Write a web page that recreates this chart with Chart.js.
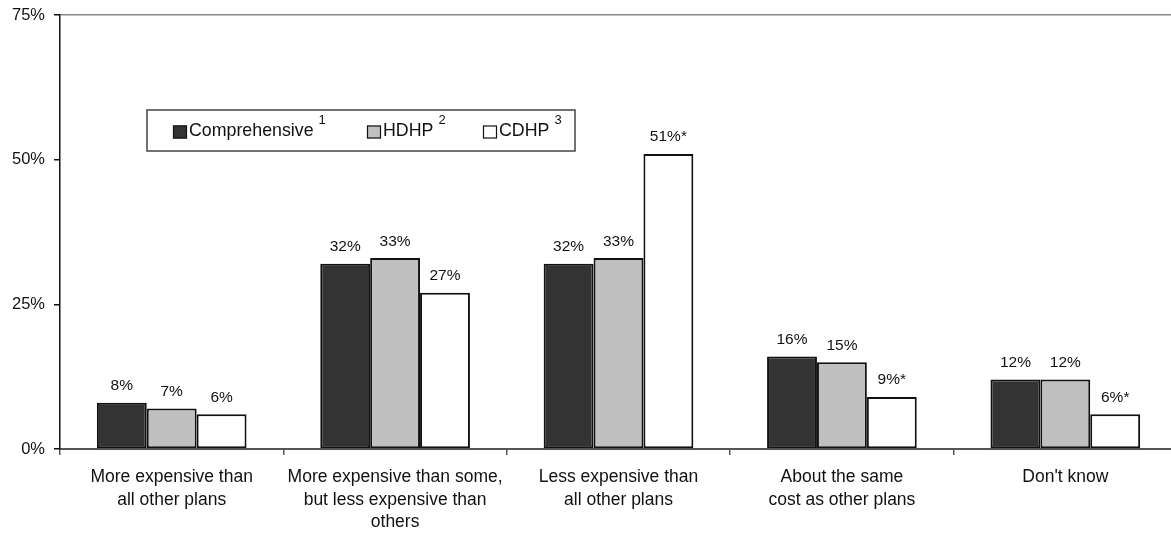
<!DOCTYPE html>
<html>
<head>
<meta charset="utf-8">
<script src="https://cdn.jsdelivr.net/npm/chart.js@4.4.1/dist/chart.umd.min.js"></script>
<style>
  html, body { margin: 0; padding: 0; background: #fff; overflow: hidden; }
  #wrap { width: 1171px; height: 542px; overflow: hidden; }
  canvas { display: block; }
</style>
</head>
<body>
<div id="wrap"><canvas id="chart" width="1178" height="542"></canvas></div>
<script>
const categories = [
  ["More expensive than", "all other plans"],
  ["More expensive than some,", "but less expensive than", "others"],
  ["Less expensive than", "all other plans"],
  ["About the same", "cost as other plans"],
  ["Don't know"]
];
const seriesNames = ["Comprehensive", "HDHP", "CDHP"];
const seriesNotes = ["1", "2", "3"];
const comprehensive = [8, 32, 32, 16, 12];
const hdhp = [7, 33, 33, 15, 12];
const cdhp = [6, 27, 51, 9, 6];
const comprehensiveLabels = ["8%", "32%", "32%", "16%", "12%"];
const hdhpLabels = ["7%", "33%", "33%", "15%", "12%"];
const cdhpLabels = ["6%", "27%", "51%*", "9%*", "6%*"];
const yTicks = [0, 25, 50, 75];

const FONT = "'Liberation Sans', Arial, sans-serif";
const colors = ["#333333", "#c0c0c0", "#ffffff"];

// value labels over each bar
const barLabels = {
  id: "barLabels",
  afterDatasetsDraw(chart) {
    const ctx = chart.ctx;
    ctx.save();
    ctx.font = "15.5px " + FONT;
    ctx.fillStyle = "#111";
    ctx.textAlign = "center";
    ctx.textBaseline = "bottom";
    chart.data.datasets.forEach((ds, i) => {
      chart.getDatasetMeta(i).data.forEach((bar, j) => {
        ctx.fillText(ds.valueLabels[j], bar.x, bar.y - 9);
      });
    });
    ctx.restore();
  }
};

// boxed legend inside the plot with footnote numbers
const boxLegend = {
  id: "boxLegend",
  afterDraw(chart, args, opts) {
    const ctx = chart.ctx;
    ctx.save();
    ctx.strokeStyle = "#444";
    ctx.lineWidth = 1.5;
    ctx.strokeRect(opts.x, opts.y, opts.w, opts.h);
    const midY = opts.y + opts.h / 2 + 1;
    chart.data.datasets.forEach((ds, i) => {
      const x = opts.items[i];
      ctx.fillStyle = ds.backgroundColor;
      ctx.fillRect(x, midY - 6, 14, 13);
      ctx.strokeStyle = "#111";
      ctx.lineWidth = 1.2;
      ctx.strokeRect(x + 0.5, midY - 5.5, 13, 12);
      ctx.fillStyle = "#111";
      ctx.font = "17.8px " + FONT;
      ctx.textAlign = "left";
      ctx.textBaseline = "middle";
      ctx.fillText(ds.label, x + 16, midY);
      const tw = ctx.measureText(ds.label).width;
      ctx.font = "13px " + FONT;
      ctx.fillText(seriesNotes[i], x + 16 + tw + 5, midY - 11);
    });
    ctx.restore();
  }
};

new Chart(document.getElementById("chart"), {
  type: "bar",
  data: {
    labels: categories,
    datasets: [comprehensive, hdhp, cdhp].map((d, i) => ({
      label: seriesNames[i],
      data: d,
      valueLabels: [comprehensiveLabels, hdhpLabels, cdhpLabels][i],
      backgroundColor: colors[i],
      borderColor: "#111",
      borderWidth: 2,
      borderSkipped: false,
      categoryPercentage: 0.67,
      barPercentage: 1.0
    }))
  },
  options: {
    responsive: false,
    animation: false,
    layout: { padding: { top: 15, right: 1, left: 0, bottom: 0 } },
    plugins: {
      legend: { display: false },
      tooltip: { enabled: false },
      boxLegend: { x: 147, y: 110, w: 428, h: 41, items: [173, 367, 483] }
    },
    scales: {
      x: {
        grid: { drawOnChartArea: false, color: "#555", tickLength: 6, lineWidth: 1.5 },
        border: { color: "#555", width: 2 },
        ticks: {
          color: "#111",
          font: { family: FONT, size: 17.5, lineHeight: 1.29 },
          padding: 11,
          maxRotation: 0,
          autoSkip: false
        },
        afterFit(scale) { scale.height = 93; }
      },
      y: {
        min: 0,
        max: 75,
        afterBuildTicks(scale) { scale.ticks = yTicks.map(v => ({ value: v })); },
        grid: {
          color: ctx => ctx.tick && ctx.tick.value === 75 ? "#888" : "rgba(0,0,0,0)",
          tickColor: "#111",
          tickLength: 6,
          lineWidth: 1.5
        },
        border: { color: "#111", width: 1.5 },
        ticks: {
          color: "#111",
          font: { family: FONT, size: 16.5 },
          padding: 9,
          callback: v => v + "%"
        },
        afterFit(scale) {
          scale.width = 60;
          scale.paddingTop = 0;
          scale.paddingBottom = 0;
        }
      }
    }
  },
  plugins: [barLabels, boxLegend]
});
</script>
</body>
</html>
